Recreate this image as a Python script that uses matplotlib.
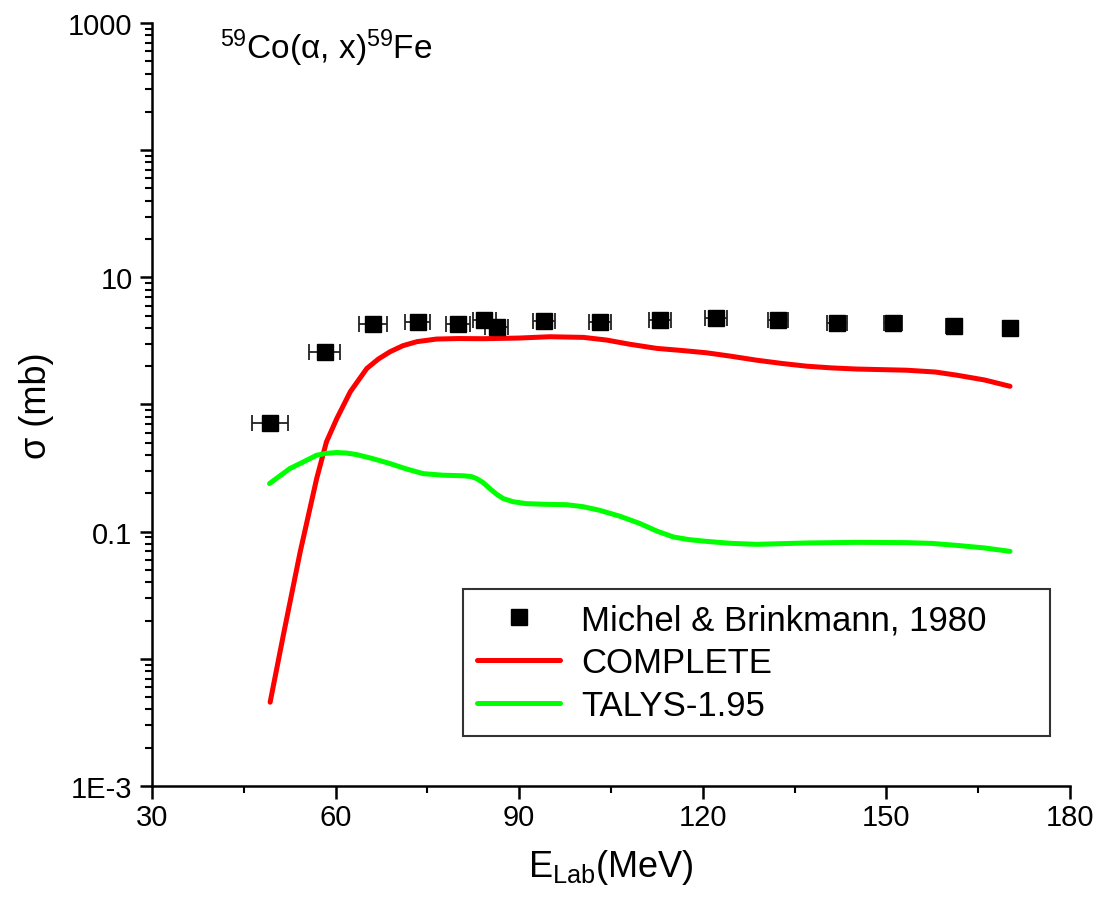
import numpy as np
import matplotlib
matplotlib.use("Agg")
import matplotlib.pyplot as plt
from matplotlib.lines import Line2D
from matplotlib.ticker import FixedLocator, FuncFormatter, LogLocator, NullFormatter

plt.rcParams['font.family'] = ['Liberation Sans', 'DejaVu Sans']
plt.rcParams['mathtext.fontset'] = 'custom'
plt.rcParams['mathtext.rm'] = 'Liberation Sans'
plt.rcParams['mathtext.it'] = 'Liberation Sans:italic'

# Michel & Brinkmann, 1980
exp_E = [49.3, 58.2, 66.1, 73.4, 80.0, 84.3, 86.3, 94.1, 103.2, 113.0,
         122.2, 132.3, 141.9, 151.1, 161.0, 170.2]
exp_sigma = [0.72, 2.6, 4.28, 4.48, 4.26, 4.61, 4.09, 4.5, 4.48, 4.61,
             4.76, 4.61, 4.40, 4.35, 4.17, 3.96]
exp_dE = [2.9, 2.5, 2.3, 2.0, 2.0, 1.9, 1.9, 1.8, 1.8, 1.8,
          1.8, 1.6, 1.6, 1.5, 1.3, 0.8]
exp_dsigma = [0.06, 0.2, 0.3, 0.3, 0.3, 0.3, 0.3, 0.3, 0.3, 0.3,
              0.3, 0.3, 0.3, 0.3, 0.3, 0.25]

# COMPLETE
complete_E = [49.3, 51.45, 54.2, 56.9, 58.5, 60.2, 62.4, 65.1, 67.0, 68.9,
              71.0, 73.3, 76.5, 80.0, 84.1, 90.0, 95.0, 100.5, 104.3, 108.0,
              112.5, 116.5, 120.6, 124.5, 128.8, 133.0, 137.0, 141.0, 145.1,
              153.3, 158.0, 161.5, 166.0, 170.2]
complete_sigma = [0.00456, 0.0153, 0.069, 0.261, 0.508, 0.776, 1.26, 1.92,
                  2.28, 2.60, 2.90, 3.12, 3.27, 3.30, 3.29, 3.33, 3.41, 3.37,
                  3.21, 2.98, 2.76, 2.66, 2.55, 2.40, 2.23, 2.10, 2.0, 1.94,
                  1.90, 1.86, 1.80, 1.70, 1.56, 1.39]

# TALYS-1.95
talys_E = [49.2, 52.5, 54.8, 56.9, 58.5, 60.2, 61.8, 63.4, 66.0, 68.9, 71.5,
           74.3, 77.5, 80.9, 82.2, 83.0, 84.1, 85.2, 86.3, 87.4, 89.0, 91.2,
           94.5, 97.7, 100.5, 103.2, 106.5, 109.7, 112.5, 115.2, 117.8,
           120.6, 124.5, 128.8, 133.0, 137.0, 145.1, 153.3, 157.5, 161.5,
           166.0, 170.2]
talys_sigma = [0.239, 0.313, 0.355, 0.399, 0.413, 0.419, 0.415, 0.404, 0.376,
               0.343, 0.312, 0.286, 0.278, 0.275, 0.271, 0.262, 0.243, 0.218,
               0.197, 0.182, 0.172, 0.166, 0.164, 0.163, 0.157, 0.147, 0.132,
               0.116, 0.101, 0.0908, 0.0865, 0.0839, 0.081, 0.0795, 0.0805,
               0.0815, 0.0824, 0.082, 0.0808, 0.078, 0.0745, 0.070]

fig = plt.figure(figsize=(10.96, 9.04), dpi=100)
ax = fig.add_axes([0.1387, 0.1294, 0.8376, 0.8441])

ax.errorbar(exp_E, exp_sigma, xerr=exp_dE, yerr=exp_dsigma, fmt='s',
            color='black', ecolor='#222222', elinewidth=1.3, capsize=6,
            capthick=1.3, markersize=11, zorder=3)
ax.plot(complete_E, complete_sigma, color='#ff0000', lw=3.6,
        solid_capstyle='round', solid_joinstyle='round')
ax.plot(talys_E, talys_sigma, color='#00ff00', lw=3.6,
        solid_capstyle='round', solid_joinstyle='round')

ax.set_yscale('log')
ax.set_xlim(30, 180)
ax.set_ylim(1e-3, 1000)

ax.xaxis.set_major_locator(FixedLocator([30, 60, 90, 120, 150, 180]))
ax.xaxis.set_minor_locator(FixedLocator([45, 75, 105, 135, 165]))

ax.yaxis.set_major_locator(FixedLocator([10.0 ** k for k in range(-3, 4)]))
ax.yaxis.set_minor_locator(LogLocator(base=10, subs=np.arange(2, 10), numticks=20))
ax.yaxis.set_minor_formatter(NullFormatter())
ylabels = {3: '1000', 1: '10', -1: '0.1', -3: '1E-3'}


def yfmt(v, pos):
    k = int(round(np.log10(v)))
    return ylabels.get(k, '')


ax.yaxis.set_major_formatter(FuncFormatter(yfmt))

for s in ['top', 'right']:
    ax.spines[s].set_visible(False)
for s in ['left', 'bottom']:
    ax.spines[s].set_linewidth(1.8)

ax.tick_params(which='major', direction='out', length=9, width=1.8,
               labelsize=21)
ax.tick_params(axis='x', which='major', pad=3)
ax.tick_params(axis='y', which='major', pad=5)
ax.tick_params(which='minor', direction='out', length=5, width=1.5)

ax.set_xlabel(r'E$_{\mathrm{Lab}}$(MeV)', fontsize=26, labelpad=12)
ax.set_ylabel('σ (mb)', fontsize=26, labelpad=10)

ax.text(0.074, 0.995, r'$^{59}$Co(α, x)$^{59}$Fe', transform=ax.transAxes,
        fontsize=24, va='top', ha='left')

handles = [
    Line2D([], [], ls='none', marker='s', color='black', markersize=11),
    Line2D([], [], color='#ff0000', lw=3.6, solid_capstyle='round'),
    Line2D([], [], color='#00ff00', lw=3.6, solid_capstyle='round'),
]
labels = ['Michel & Brinkmann, 1980', 'COMPLETE', 'TALYS-1.95']
leg = ax.legend(handles, labels, loc='lower left',
                bbox_to_anchor=(0.339, 0.0655, 0.639, 0.193), mode='expand',
                fontsize=25, frameon=True, fancybox=False, edgecolor='black',
                handlelength=2.4, handletextpad=0.6, labelspacing=0.29,
                borderpad=0.4, borderaxespad=0)
leg.get_frame().set_linewidth(1.5)

fig.savefig('out.png', dpi=100)
